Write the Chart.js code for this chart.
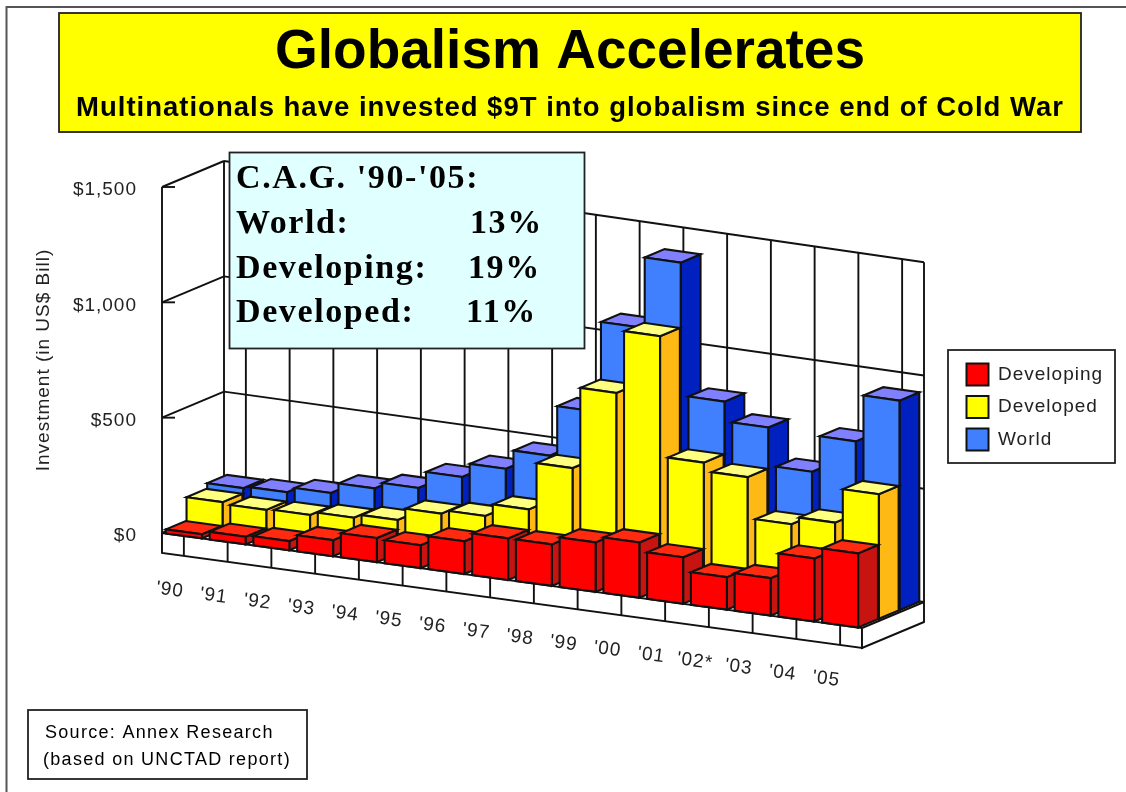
<!DOCTYPE html>
<html>
<head>
<meta charset="utf-8">
<style>html,body{margin:0;padding:0;background:#fff;overflow:hidden}canvas{display:block;filter:blur(0.4px)}</style>
<script src="https://cdn.jsdelivr.net/npm/chart.js@4/dist/chart.umd.js"></script>
</head>
<body>
<canvas id="c" width="1126" height="792"></canvas>
<script>
const categories = ["'90","'91","'92","'93","'94","'95","'96","'97","'98","'99","'00","'01","'02*","'03","'04","'05"];
const developing = [18,33,40,70,105,100,143,182,182,217,243,204,143,165,278,327];
const developed  = [120,112,116,130,146,200,216,271,478,834,1110,582,545,364,398,550];
const world      = [143,151,174,220,248,322,384,468,689,1085,1395,812,725,557,718,925];
const valueTicks = [0,500,1000,1500];
const titleText = "Globalism Accelerates";
const subtitleText = "Multinationals have invested $9T into globalism since end of Cold War";
const yAxisTitle = "Investment (in US$ Bill)";
const noteHead = "C.A.G. '90-'05:";
const noteLabels = ["World:","Developing:","Developed:"];
const notePercents = ["13%","19%","11%"];
const sourceLines = ["Source: Annex Research","(based on UNCTAD report)"];

const SANS = "'Liberation Sans', Arial, sans-serif";
const SERIF = "'Liberation Serif', 'Times New Roman', serif";
const INK = '#111';
const DX = 62/3, DY = 26/3, SLOPE = 95/700, SHRINK = 0.018, SPACING = '1px';

// oblique projection built on the scales' own pixels
function project(chart, px, py, d){
  const a = chart.chartArea, y0 = chart.scales.y.getPixelForValue(0);
  const t = (px - a.left)/(a.right - a.left);
  return [px + d*DX, y0 + (py - y0)*(1 - SHRINK*t) + (px - a.left)*SLOPE - d*DY];
}
function poly(ctx, pts, fill){
  ctx.beginPath();
  pts.forEach((p,i)=> i?ctx.lineTo(p[0],p[1]):ctx.moveTo(p[0],p[1]));
  ctx.closePath();
  if(fill){ctx.fillStyle=fill;ctx.fill();}
  ctx.stroke();
}
function seg(ctx,a,b){ctx.beginPath();ctx.moveTo(a[0],a[1]);ctx.lineTo(b[0],b[1]);ctx.stroke();}

class Bar3DController extends Chart.BarController {
  draw(){
    const chart=this.chart, ctx=chart.ctx, meta=this._cachedMeta, ds=this.getDataset(), s=this.index;
    ctx.save();
    ctx.lineWidth=2.1; ctx.strokeStyle=INK; ctx.lineJoin='miter';
    meta.data.forEach(el=>{
      const {x,y,base,width}=el.getProps(['x','y','base','width'],true);
      const l=x-width/2, r=x+width/2, d0=s, d1=s+0.96;
      const P=(px,py,d)=>project(chart,px,py,d);
      poly(ctx,[P(r,y,d0),P(r,y,d1),P(r,base,d1),P(r,base,d0)],ds.sideColor);
      poly(ctx,[P(l,y,d0),P(l,y,d1),P(r,y,d1),P(r,y,d0)],ds.topColor);
      poly(ctx,[P(l,y,d0),P(r,y,d0),P(r,base,d0),P(l,base,d0)],ds.backgroundColor);
    });
    ctx.restore();
  }
}
Bar3DController.id='bar3d';
Bar3DController.defaults=Chart.BarController.defaults;
Bar3DController.overrides=Chart.BarController.overrides;
Chart.register(Bar3DController);

function rect(ctx,x,y,w,h,fill,stroke,lw){
  ctx.fillStyle=fill;ctx.fillRect(x,y,w,h);
  ctx.strokeStyle=stroke;ctx.lineWidth=lw;ctx.strokeRect(x,y,w,h);
}
function text(ctx,str,x,y,font,spacing,align){
  ctx.font=font;ctx.letterSpacing=spacing;ctx.textAlign=align||'left';
  ctx.textBaseline='alphabetic';ctx.fillStyle='#000';ctx.fillText(str,x,y);
}

const scene={
  id:'scene',
  beforeUpdate(chart){chart.ctx.letterSpacing=SPACING;},
  afterLayout(chart){
    chart.boxes.forEach(b=>{
      if(b.options&&(b.options.text===titleText||b.options.text===subtitleText)){
        b.left=59;b.right=1081;
        if(b.options.text===titleText&&!b._tight){
          b._tight=true;
          const d=b.draw.bind(b);
          b.draw=function(){chart.ctx.letterSpacing='0px';d();chart.ctx.letterSpacing=SPACING;};
        }
      }
    });
    const L=chart.legend;
    L.left=956;L.top=353;L.right=1115;L.bottom=463;L.width=159;L.height=110;
    L.adjustHitBoxes();
  },
  beforeDraw(chart){
    const ctx=chart.ctx;
    ctx.save();
    ctx.fillStyle='#fff';ctx.fillRect(0,0,1126,792);
    ctx.strokeStyle='#555';ctx.lineWidth=2;
    ctx.beginPath();ctx.moveTo(1126,7);ctx.lineTo(6.5,7);ctx.lineTo(6.5,792);ctx.stroke();
    rect(ctx,59,13,1022,119,'#ffff00','#222',1.8);
    rect(ctx,948,350,167,113,'#fff','#222',1.8);
    rect(ctx,28,710,279,69,'#fff','#222',1.8);
    ctx.restore();
    ctx.letterSpacing=SPACING;
  },
  beforeDatasetsDraw(chart){
    const ctx=chart.ctx, xs=chart.scales.x, ys=chart.scales.y, a=chart.chartArea;
    const P=(px,v,d)=>project(chart,px,ys.getPixelForValue(v),d);
    const top=valueTicks[valueTicks.length-1];
    ctx.save();
    ctx.lineWidth=1.9;ctx.strokeStyle=INK;
    // walls and floor
    valueTicks.forEach(v=>{
      seg(ctx,P(a.left,v,0),P(a.left,v,3));
      seg(ctx,P(a.left,v,3),P(a.right,v,3));
      const p=P(a.left,v,0);
      seg(ctx,p,[p[0]+13,p[1]]);
    });
    seg(ctx,P(a.left,top,3),P(a.left,0,3));
    seg(ctx,P(a.right,top,3),P(a.right,0,3));
    categories.forEach((c,i)=>{
      const x=xs.getPixelForValue(i);
      seg(ctx,P(x,top,3),P(x,0,3));
    });
    // base slab
    const drop=p=>[p[0],p[1]+20];
    const fl=P(a.left,0,0), fr=P(a.right,0,0), br=P(a.right,0,3);
    seg(ctx,P(a.left,top,0),drop(fl));
    poly(ctx,[fl,fr,drop(fr),drop(fl)],'#fff');
    poly(ctx,[fr,br,drop(br),drop(fr)],'#fff');
    categories.forEach((c,i)=>{
      const p=P(xs.getPixelForValue(i),0,0);
      seg(ctx,p,drop(p));
    });
    ctx.restore();
  },
  afterDatasetsDraw(chart){
    const ctx=chart.ctx, xs=chart.scales.x, ys=chart.scales.y;
    ctx.save();
    // slanted category labels
    categories.forEach((c,i)=>{
      const p=project(chart,xs.getPixelForValue(i),ys.getPixelForValue(0),0);
      ctx.save();
      ctx.translate(p[0]-14,p[1]+54);
      ctx.rotate(Math.atan(SLOPE));
      ctx.font='19px '+SANS;ctx.letterSpacing=SPACING;ctx.fillStyle='#222';
      ctx.textAlign='center';ctx.textBaseline='middle';
      ctx.fillText(c,0,0);
      ctx.restore();
    });
    // growth note
    rect(ctx,229.5,152.5,355,196,'#e0ffff','#222',1.8);
    const f='bold 34px '+SERIF;
    text(ctx,noteHead,236,188,f,'1.6px');
    const ys2=[233,278,322], xp=[470,468,466];
    noteLabels.forEach((t,i)=>{
      text(ctx,t,236,ys2[i],f,'1.6px');
      text(ctx,notePercents[i],xp[i],ys2[i],f,'1.6px');
    });
    // source
    text(ctx,sourceLines[0],45,738,'18px '+SANS,'1.3px');
    text(ctx,sourceLines[1],43,765,'18px '+SANS,'1.3px');
    ctx.restore();
    ctx.letterSpacing=SPACING;
  }
};

new Chart(document.getElementById('c'),{
  type:'bar3d',
  data:{
    labels:categories,
    datasets:[
      {label:'Developing',data:developing,backgroundColor:'#ff0000',sideColor:'#c81410',topColor:'#ff2a10',borderColor:'#111',borderWidth:2,grouped:false,categoryPercentage:1,barPercentage:0.823,clip:false},
      {label:'Developed',data:developed,backgroundColor:'#ffff00',sideColor:'#ffb914',topColor:'#ffff80',borderColor:'#111',borderWidth:2,grouped:false,categoryPercentage:1,barPercentage:0.823,clip:false},
      {label:'World',data:world,backgroundColor:'#4080ff',sideColor:'#0020c0',topColor:'#8080ff',borderColor:'#111',borderWidth:2,grouped:false,categoryPercentage:1,barPercentage:0.823,clip:false}
    ]
  },
  options:{
    responsive:false,animation:false,
    layout:{padding:{left:20,top:0,right:264,bottom:259}},
    scales:{
      x:{type:'category',offset:true,display:false},
      y:{
        type:'linear',position:'left',min:0,max:1500,
        afterFit(s){s.width=142;},
        border:{display:false},
        grid:{display:false,drawTicks:false},
        title:{display:true,text:yAxisTitle,color:'#222',font:{family:SANS,size:19,lineHeight:1},padding:{top:14,bottom:0}},
        ticks:{padding:25,labelOffset:3,color:'#222',font:{family:SANS,size:19},
          stepSize:500,
          callback:v=>'$'+Number(v).toLocaleString('en-US')}
      }
    },
    plugins:{
      tooltip:{enabled:false},
      title:{display:true,text:titleText,color:'#000',font:{family:SANS,size:55,weight:'bold',lineHeight:1},padding:{top:24.9,bottom:0}},
      subtitle:{display:true,text:subtitleText,color:'#000',font:{family:SANS,size:27.5,weight:'bold',lineHeight:1},padding:{top:14.35,bottom:65.25}},
      legend:{position:'chartArea',align:'start',labels:{boxWidth:22,boxHeight:22,padding:10.5,color:'#222',font:{family:SANS,size:19}}}
    }
  },
  plugins:[scene]
});
</script>
</body>
</html>
